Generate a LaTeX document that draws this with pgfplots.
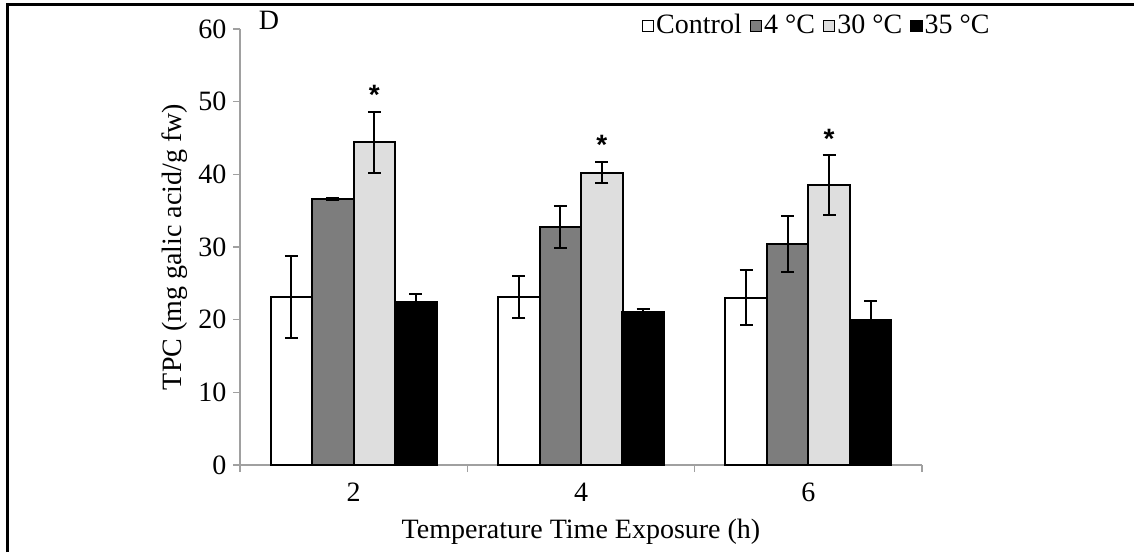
\documentclass[border=0pt]{standalone}
\usepackage{fontspec}
\setmainfont{Liberation Serif}
\newfontfamily\starfont{Liberation Sans}
\usepackage{pgfplots}
\pgfplotsset{compat=1.18}
\definecolor{darkbar}{RGB}{125,125,125}
\definecolor{lightbar}{RGB}{222,222,222}
\definecolor{axgray}{RGB}{160,160,160}
% x = group index + bar offset (bar width 0.1825 axis units)
\pgfplotstableread{
x         y     e
-0.27375  23.1  5.6
0.72625   23.1  2.9
1.72625   23.05 3.85
}\tcontrol
\pgfplotstableread{
x         y     e
-0.09125  36.6  0.2
0.90875   32.8  2.9
1.90875   30.4  3.9
}\tfour
\pgfplotstableread{
x         y     e
0.09125   44.4  4.2
1.09125   40.2  1.45
2.09125   38.5  4.1
}\tthirty
\pgfplotstableread{
x         y     e
0.27375   22.5  1.1
1.27375   21.0  0.4
2.27375   20.0  2.6
}\tthirtyfive
\begin{document}
\fontsize{14}{17}\selectfont
\begin{tikzpicture}[x=1pt,y=1pt]
\path[use as bounding box] (0,0) rectangle (567,276);
\draw[line width=1.5pt] (3.5,0) -- (3.5,273.5) -- (567,273.5);
\node[anchor=center] at (134.5,266) {D};
\begin{axis}[
  at={(120pt,43.5pt)}, anchor=south west,
  scale only axis, width=341pt, height=218pt,
  xmin=-0.5, xmax=2.5, ymin=0, ymax=60,
  ytick={0,10,...,60},
  xtick={-0.5,0.5,1.5,2.5}, xticklabels={},
  extra x ticks={0,1,2}, extra x tick labels={2,4,6},
  extra x tick style={major tick length=0pt},
  tick align=outside, major tick length=3.5pt,
  tick style={draw=axgray, line width=0.6pt},
  axis x line*=bottom, axis y line*=left,
  axis line style={draw=axgray, line width=0.7pt, -},
  /pgf/number format/assume math mode=true,
  ticklabel style={font=\fontsize{14}{17}\selectfont},
  yticklabel style={xshift=1.5pt},
  xticklabel style={yshift=-4pt},
  xlabel={Temperature Time Exposure (h)},
  ylabel={TPC (mg galic acid/g fw)},
  xlabel style={at={(axis description cs:0.5,0)}, anchor=center, yshift=-33.5pt},
  ylabel style={at={(axis description cs:0,0.5)}, anchor=center, yshift=32.5pt},
  legend columns=4,
  legend style={draw=none, fill=none, at={(376pt,219.5pt)}, anchor=east,
    font=\fontsize{14}{17}\selectfont, inner sep=0pt,
    nodes={inner sep=1pt},
    /tikz/every odd column/.append style={column sep=0pt},
    /tikz/every even column/.append style={column sep=3pt}},
  legend image code/.code={\draw[#1, line width=0.6pt] (0pt,-2.8pt) rectangle (5.6pt,2.8pt);},
  every axis plot/.append style={line width=1pt},
  error bars/error bar style={line width=1pt, black},
  error bars/error mark options={rotate=90, mark size=3.25pt, line width=1pt, black},
]
\addplot[ybar, bar width=20.75pt, bar shift=0pt, draw=black, fill=white,
  error bars/.cd, y dir=both, y explicit] table[x=x, y=y, y error=e] {\tcontrol};
\addlegendentry{Control}
\addplot[ybar, bar width=20.75pt, bar shift=0pt, draw=black, fill=darkbar,
  error bars/.cd, y dir=both, y explicit] table[x=x, y=y, y error=e] {\tfour};
\addlegendentry{4 °C}
\addplot[ybar, bar width=20.75pt, bar shift=0pt, draw=black, fill=lightbar,
  error bars/.cd, y dir=both, y explicit] table[x=x, y=y, y error=e] {\tthirty};
\addlegendentry{30 °C}
\addplot[ybar, bar width=20.75pt, bar shift=0pt, draw=black, fill=black,
  error bars/.cd, y dir=both, y explicit] table[x=x, y=y, y error=e] {\tthirtyfive};
\addlegendentry{35 °C}
\addplot[only marks, mark=text, text mark={\starfont\bfseries *}, text mark as node=true,
  forget plot] coordinates {(0.09125,51.0) (1.09125,44.1) (2.09125,44.9)};
\end{axis}
\end{tikzpicture}
\end{document}
